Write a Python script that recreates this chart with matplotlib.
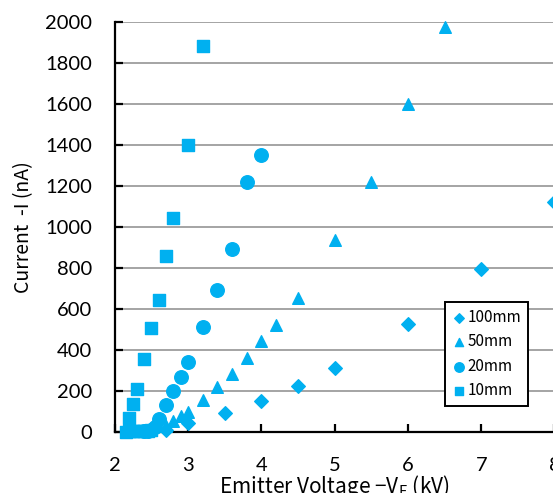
import matplotlib
matplotlib.use("Agg")
import matplotlib.pyplot as plt

# Emitter current vs. emitter voltage for four emitter-extractor gaps
v_100mm = [2.7, 3.0, 3.5, 4.0, 4.5, 5.0, 6.0, 7.0, 8.0]
i_100mm = [10, 44, 93, 151, 224, 313, 527, 796, 1122]

v_50mm = [2.7, 2.8, 2.9, 3.0, 3.2, 3.4, 3.6, 3.8, 4.0, 4.2, 4.5, 5.0, 5.5, 6.0, 6.5]
i_50mm = [30, 55, 78, 100, 155, 218, 283, 360, 442, 520, 652, 938, 1222, 1600, 1975]

v_20mm = [2.4, 2.45, 2.5, 2.55, 2.6, 2.7, 2.8, 2.9, 3.0, 3.2, 3.4, 3.6, 3.8, 4.0]
i_20mm = [3, 6, 12, 25, 65, 130, 200, 270, 342, 510, 692, 893, 1220, 1352]

v_10mm = [2.15, 2.2, 2.25, 2.3, 2.35, 2.4, 2.45, 2.5,
          2.2, 2.25, 2.3, 2.4, 2.5, 2.6, 2.7, 2.8, 3.0, 3.2]
i_10mm = [2, 3, 3, 4, 4, 5, 6, 8,
          68, 137, 210, 356, 507, 645, 860, 1043, 1400, 1882]

x_ticks = [2, 3, 4, 5, 6, 7, 8]
y_ticks = list(range(0, 2001, 200))

BLUE = "#00B0F0"
TICK_FONT = "Lato"
LABEL_FONT = ["Noto Sans CJK JP", "DejaVu Sans"]

fig = plt.figure(figsize=(5.53, 4.93), dpi=100)
ax = fig.add_axes([0.2074, 0.1237, 0.7953, 0.8316])

ax.set_xlim(2, 8)
ax.set_ylim(0, 2000)
ax.set_xticks(x_ticks)
ax.set_yticks(y_ticks)

ax.yaxis.grid(True, color="#8c8c8c", linewidth=1.1)
ax.set_axisbelow(True)

ax.scatter(v_100mm, i_100mm, marker="D", s=48, color=BLUE, label="100mm", zorder=3, clip_on=False)
ax.scatter(v_50mm, i_50mm, marker="^", s=70, color=BLUE, label="50mm", zorder=3, clip_on=False)
ax.scatter(v_20mm, i_20mm, marker="o", s=95, color=BLUE, label="20mm", zorder=3, clip_on=False)
ax.scatter(v_10mm, i_10mm, marker="s", s=85, color=BLUE, label="10mm", zorder=3, clip_on=False)

for side in ("top", "right"):
    ax.spines[side].set_visible(False)
for side in ("left", "bottom"):
    ax.spines[side].set_linewidth(1.6)
    ax.spines[side].set_color("black")

ax.tick_params(axis="both", direction="in", length=6, width=1.6, color="black",
               labelsize=14.5)
ax.tick_params(axis="x", pad=18)
ax.tick_params(axis="y", pad=16)
for lab in ax.get_xticklabels() + ax.get_yticklabels():
    lab.set_fontfamily(TICK_FONT)

ax.set_ylabel("Current  -I (nA)", fontsize=14, family=LABEL_FONT, labelpad=8)
ax.set_xlabel("Emitter Voltage \u2212V$\\mathregular{_E}$ (kV)", fontsize=15,
              family=LABEL_FONT, labelpad=-1)

leg = ax.legend(loc="upper left", bbox_to_anchor=(0.751, 0.316), frameon=True,
                fancybox=False, edgecolor="black", framealpha=1,
                prop={"family": LABEL_FONT, "size": 11},
                handletextpad=0.1, handlelength=1.0, labelspacing=0.5,
                borderpad=0.4, markerscale=0.7, borderaxespad=0)
leg.get_frame().set_linewidth(1.4)
leg.set_zorder(5)

fig.savefig("out.png", dpi=100)
